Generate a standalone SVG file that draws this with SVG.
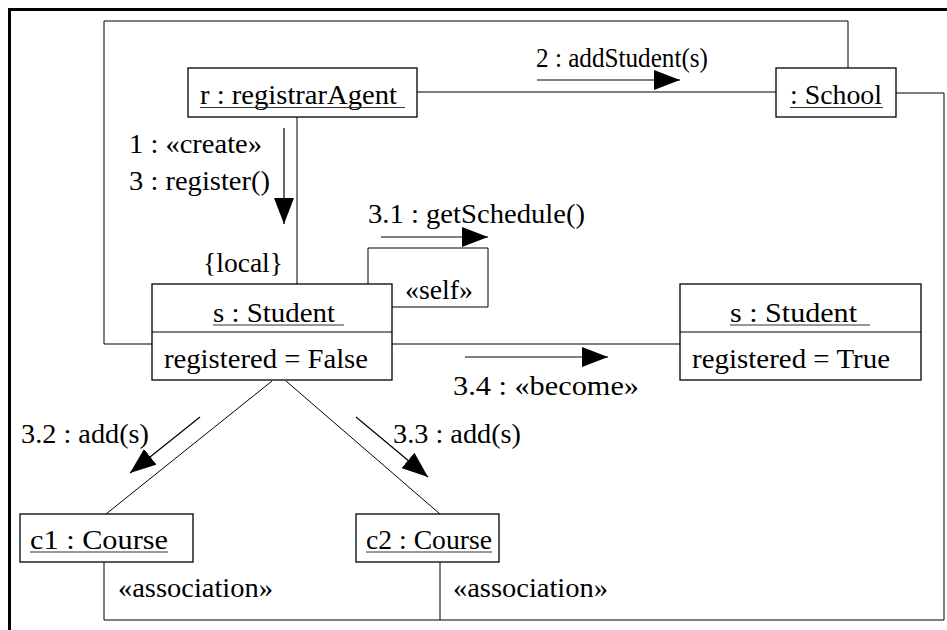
<svg xmlns="http://www.w3.org/2000/svg" width="947" height="630" viewBox="0 0 947 630">
  <defs>
    <style>
      text { font-family: "Liberation Serif", "Times New Roman", serif; font-size: 27px; fill: #000; }
      .box { fill: #fff; stroke: #000; stroke-width: 1.3; }
      .link { fill: none; stroke: #000; stroke-width: 1; }
      .msg { fill: none; stroke: #000; stroke-width: 1.2; marker-end: url(#head); }
      .ul { stroke: #333; stroke-width: 1; }
      .frame { fill: none; stroke: #000; stroke-width: 3; }
    </style>
    <marker id="head" viewBox="0 0 26 20" markerWidth="26" markerHeight="20" refX="26" refY="10" orient="auto" markerUnits="userSpaceOnUse">
      <path d="M0,0 L26,10 L0,20 z" fill="#000"/>
    </marker>
  </defs>

  <rect width="947" height="630" fill="#fff"/>
  <!-- diagram frame (top and left edges) -->
  <path class="frame" d="M9.5,630 L9.5,9.5 L947,9.5"/>

  <!-- links between objects -->
  <g id="connectors">
    <line class="link" x1="297" y1="117" x2="297" y2="284"/>
    <line class="link" x1="417" y1="92" x2="776" y2="92"/>
    <polyline class="link" points="152,344 104,344 104,21 848,21 848,68"/>
    <polyline class="link" points="896,93 944,93 944,620 104,620 104,562"/>
    <line class="link" x1="440" y1="562" x2="440" y2="620"/>
    <line class="link" x1="392" y1="344" x2="680" y2="344"/>
    <polyline class="link" points="368,284 368,248 488,248 488,307 392,307"/>
    <line class="link" x1="272" y1="381" x2="106" y2="514"/>
    <line class="link" x1="286" y1="381" x2="440" y2="514"/>

    <!-- messages -->
    <line class="msg" x1="537" y1="80" x2="680" y2="80"/>
    <line class="msg" x1="284" y1="128" x2="284" y2="224"/>
    <line class="msg" x1="381" y1="237" x2="488" y2="237"/>
    <line class="msg" x1="465" y1="357" x2="608" y2="357"/>
    <line class="msg" x1="200" y1="417" x2="130" y2="473"/>
    <line class="msg" x1="356" y1="417" x2="428" y2="477"/>

    <text x="536" y="67" textLength="172" lengthAdjust="spacingAndGlyphs">2 : addStudent(s)</text>
    <text x="129" y="153" textLength="133" lengthAdjust="spacingAndGlyphs">1 : «create»</text>
    <text x="129" y="190" textLength="141" lengthAdjust="spacingAndGlyphs">3 : register()</text>
    <text x="203" y="272" textLength="80" lengthAdjust="spacingAndGlyphs">{local}</text>
    <text x="368" y="223" textLength="217" lengthAdjust="spacingAndGlyphs">3.1 : getSchedule()</text>
    <text x="405" y="299" textLength="68" lengthAdjust="spacingAndGlyphs">«self»</text>
    <text x="453" y="395" textLength="186" lengthAdjust="spacingAndGlyphs">3.4 : «become»</text>
    <text x="21" y="443" textLength="128" lengthAdjust="spacingAndGlyphs">3.2 : add(s)</text>
    <text x="393" y="443" textLength="128" lengthAdjust="spacingAndGlyphs">3.3 : add(s)</text>
    <text x="118" y="597" textLength="155" lengthAdjust="spacingAndGlyphs">«association»</text>
    <text x="453" y="597" textLength="155" lengthAdjust="spacingAndGlyphs">«association»</text>
  </g>

  <g id="registrarAgent">
    <rect class="box" x="188" y="68" width="229" height="49"/>
    <text x="200" y="104" textLength="197" lengthAdjust="spacingAndGlyphs">r : registrarAgent</text>
    <line class="ul" x1="200" y1="107.5" x2="405" y2="107.5"/>
  </g>

  <g id="school">
    <rect class="box" x="776" y="68" width="120" height="49"/>
    <text x="790" y="104" textLength="92" lengthAdjust="spacingAndGlyphs">: School</text>
    <line class="ul" x1="790" y1="107.5" x2="883" y2="107.5"/>
  </g>

  <g id="student-before">
    <rect class="box" x="152" y="284" width="240" height="96"/>
    <line class="link" x1="152" y1="332" x2="392" y2="332"/>
    <text x="213" y="322" textLength="122" lengthAdjust="spacingAndGlyphs">s : Student</text>
    <line class="ul" x1="213" y1="325" x2="344" y2="325"/>
    <text x="164" y="368" textLength="204" lengthAdjust="spacingAndGlyphs">registered = False</text>
  </g>

  <g id="student-after">
    <rect class="box" x="680" y="284" width="241" height="96"/>
    <line class="link" x1="680" y1="332" x2="921" y2="332"/>
    <text x="730" y="322" textLength="127" lengthAdjust="spacingAndGlyphs">s : Student</text>
    <line class="ul" x1="730" y1="325" x2="870" y2="325"/>
    <text x="692" y="368" textLength="198" lengthAdjust="spacingAndGlyphs">registered = True</text>
  </g>

  <g id="course1">
    <rect class="box" x="20" y="514" width="173" height="48"/>
    <text x="30" y="549" textLength="138" lengthAdjust="spacingAndGlyphs">c1 : Course</text>
    <line class="ul" x1="30" y1="552" x2="168" y2="552"/>
  </g>

  <g id="course2">
    <rect class="box" x="356" y="514" width="143" height="48"/>
    <text x="366" y="549" textLength="126" lengthAdjust="spacingAndGlyphs">c2 : Course</text>
    <line class="ul" x1="366" y1="552" x2="492" y2="552"/>
  </g>
</svg>
